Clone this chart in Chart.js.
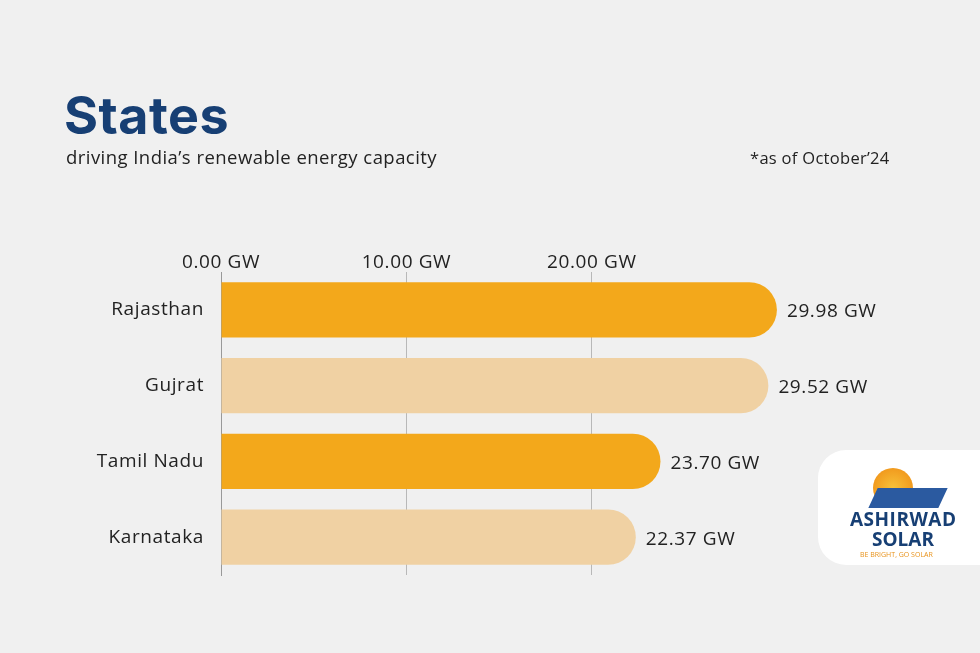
<!DOCTYPE html>
<html><head><meta charset="utf-8">
<script src="https://cdn.jsdelivr.net/npm/chart.js@4"></script>
<style>
body{margin:0;background:#f0f0f0;font-family:"Open Sans",sans-serif;}
#wrap{position:relative;width:980px;height:653px;overflow:hidden;background:#f0f0f0}
#c{position:absolute;left:0;top:0;letter-spacing:0.6px}
.t{position:absolute;color:#1a1a1a}
#logo{position:absolute;left:818px;top:450px;width:200px;height:115px;background:#fff;border-radius:28px}
</style></head><body>
<div id="wrap">
<canvas id="c" width="980" height="653"></canvas>
<div class="t" style="left:64px;top:84px;font-size:52px;font-weight:700;color:#173f74;letter-spacing:0.5px;font-family:Inter,sans-serif">States</div>
<div class="t" style="left:66px;top:144px;font-size:18.5px;color:#222;letter-spacing:0.45px">driving India’s renewable energy capacity</div>
<div class="t" style="left:750px;top:146px;font-size:16.5px;color:#222;letter-spacing:0.3px">*as of October’24</div>
<div id="logo">
<div style="position:absolute;left:32px;top:56px;font-size:19px;font-weight:700;color:#173f74;letter-spacing:0.5px">ASHIRWAD</div>
<div style="position:absolute;left:54px;top:76px;font-size:19px;font-weight:700;color:#173f74">SOLAR</div>
<div style="position:absolute;left:42px;top:100px;font-size:7px;color:#e8921a">BE BRIGHT, GO SOLAR</div>
<div style="position:absolute;left:55px;top:18px;width:40px;height:40px;border-radius:50%;background:radial-gradient(#f7c23a,#ef8a12)"></div>
<div style="position:absolute;left:55px;top:38px;width:70px;height:20px;background:#2b5aa0;transform:skewX(-25deg)"></div>
</div>
</div>
<script>
const categories=["Rajasthan","Gujrat","Tamil Nadu","Karnataka"];
const values=[29.98,29.52,23.70,22.37];
const valueLabels=["29.98 GW","29.52 GW","23.70 GW","22.37 GW"];
const tickLabels={0:"0.00 GW",10:"10.00 GW",20:"20.00 GW"};
const colors=["#f3a81b","#f0d1a3","#f3a81b","#f0d1a3"];
const FONT='"Open Sans", sans-serif';
const valuePlugin={id:'vl',afterDatasetsDraw(chart){
 const ctx=chart.ctx;const meta=chart.getDatasetMeta(0);
 ctx.save();ctx.font='19px '+FONT;ctx.fillStyle='#222';ctx.textBaseline='middle';
 meta.data.forEach((b,i)=>ctx.fillText(valueLabels[i],b.x+10,b.y+2));ctx.restore();}};
new Chart(document.getElementById('c'),{type:'bar',
 data:{labels:categories,datasets:[{data:values,backgroundColor:colors,borderRadius:28,borderSkipped:'start',barPercentage:0.73,categoryPercentage:1}]},
 options:{indexAxis:'y',responsive:false,animation:false,
  layout:{padding:{top:240,bottom:78,left:0,right:110}},
  plugins:{legend:{display:false},tooltip:{enabled:false}},
  scales:{
   x:{position:'top',min:0,max:35,
    afterFit(s){s.height=32;},
    ticks:{stepSize:10,padding:-2,color:'#222',font:{size:19,family:FONT},callback:v=>tickLabels[v]||''},
    grid:{drawTicks:false,color:c=>(c.tick&&(c.tick.value===10||c.tick.value===20))?'#b8b8b8':'rgba(0,0,0,0)'},
    border:{display:false}},
   y:{afterFit(s){s.width=221;},
    ticks:{padding:17,color:'#222',font:{size:19,family:FONT}},
    grid:{display:false,drawTicks:false},border:{display:true,color:'#999'}}
  }},plugins:[valuePlugin]});
</script></body></html>
